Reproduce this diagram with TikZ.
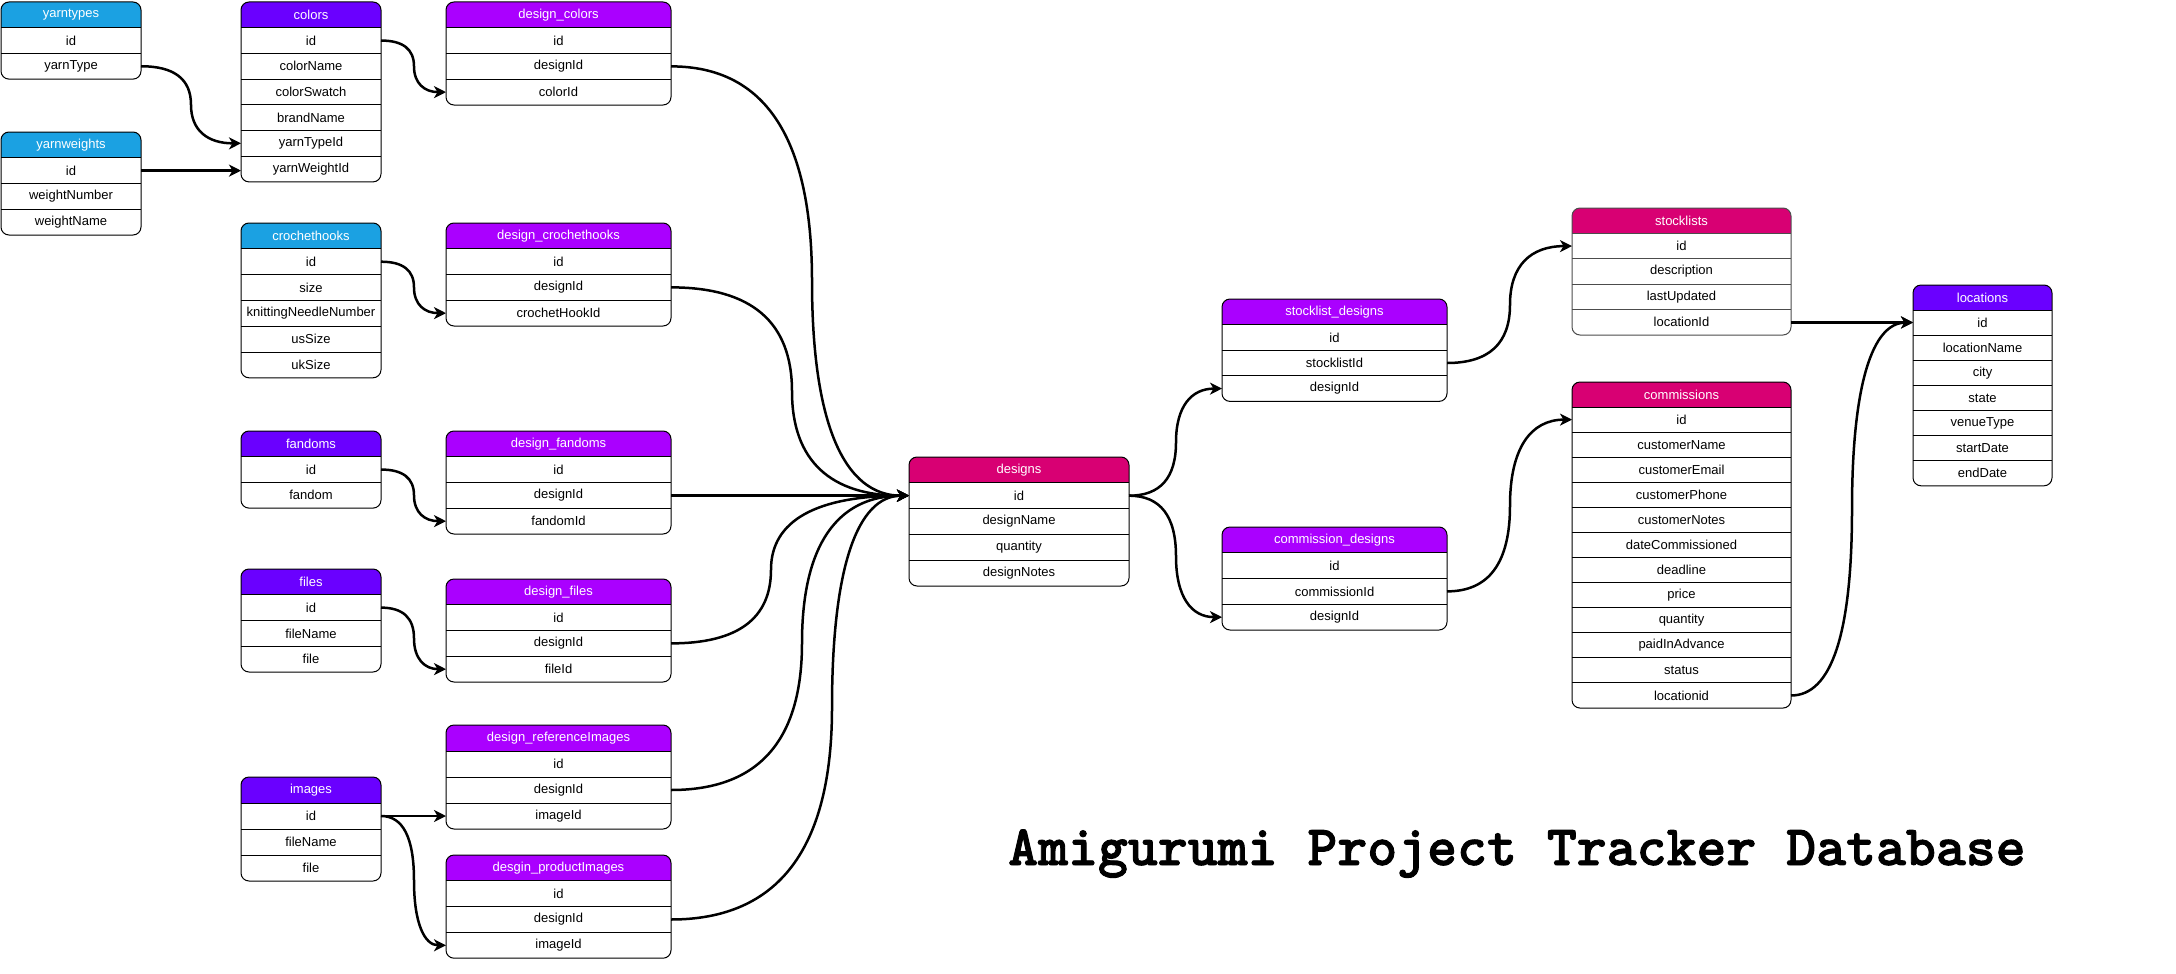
\documentclass[tikz,border=0pt]{standalone}
\usepackage{fontspec}
\setmainfont{Liberation Sans}
\newfontfamily\titlefont{lmmonolt10-bold.otf}[FakeBold=1.6]
\usetikzlibrary{arrows.meta,calc}
\definecolor{hblue}{HTML}{1BA1E2}
\definecolor{hviolet}{HTML}{6A00FF}
\definecolor{hpurple}{HTML}{AA00FF}
\definecolor{hmagenta}{HTML}{D80073}
\tikzset{
  cell/.style={inner sep=0pt, outer sep=0pt, anchor=north west, font=\fontsize{13}{15}\selectfont},
  hdrtext/.style={cell, text=white},
  fkline/.style={line width=2.5pt, -{Stealth[length=12pt,width=12pt,inset=3.5pt]}},
}
% #1 line colour, #2 id, #3 left, #4 top, #5 width, #6 row height, #7 header colour, #8 title, #9 rows
\newcommand{\tbl}[9][black]{%
  \foreach \r [count=\i] in {#9} {\xdef\tbln{\i}}%
  \pgfmathsetmacro\tblh{(\tbln+1)*#6}%
  \fill[white, rounded corners=8pt] (#3,-#4) rectangle ++(#5,-\tblh);
  \begin{scope}
    \clip[rounded corners=8pt] (#3,-#4) rectangle ++(#5,-\tblh);
    \fill[#7] (#3,-#4) rectangle ++(#5,-#6);
  \end{scope}
  \node[hdrtext, minimum width=#5pt, minimum height=#6pt] (#2) at (#3,-#4) {#8};
  \foreach \r [count=\i] in {#9} {
    \node[cell, minimum width=#5pt, minimum height=#6pt] (#2-\r) at (#3,{-#4-\i*#6}) {\r};
    \draw[#1, line width=1pt] (#3,{-#4-\i*#6}) -- ++(#5,0);
  }
  \draw[#1, line width=1pt, rounded corners=8pt] (#3,-#4) rectangle ++(#5,-\tblh);
}
% curved foreign-key connector: #1 source row, #2 target row, #3 x of vertical part
\newcommand{\fk}[3]{%
  \draw[fkline] let \p1=(#1.east), \p2=(#2.west), \n1={#3}, \n2={(\y1+\y2)/2} in
    (\p1) .. controls ({\x1+2/3*(\n1-\x1)},\y1) and (\n1,{\n2+2/3*(\y1-\n2)}) .. (\n1,\n2)
          .. controls (\n1,{\n2+2/3*(\y2-\n2)}) and ({\x2+2/3*(\n1-\x2)},\y2) .. (\p2);
}
\begin{document}
\begin{tikzpicture}[x=1pt,y=1pt]
\useasboundingbox (0,0) rectangle (2176,-974);

\tbl{yarntypes}{1}{2}{140}{25.7}{hblue}{yarntypes}{id,yarnType}
\tbl{yarnweights}{1}{132}{140}{25.75}{hblue}{yarnweights}{id,weightNumber,weightName}
\tbl{colors}{241}{2}{140}{25.7}{hviolet}{colors}{id,colorName,colorSwatch,brandName,yarnTypeId,yarnWeightId}
\tbl{dcolors}{446}{2}{225}{25.75}{hpurple}{design\_colors}{id,designId,colorId}
\tbl{hooks}{241}{223}{140}{25.8}{hblue}{crochethooks}{id,size,knittingNeedleNumber,usSize,ukSize}
\tbl{dhooks}{446}{223}{225}{25.75}{hpurple}{design\_crochethooks}{id,designId,crochetHookId}
\tbl{fandoms}{241}{431}{140}{25.7}{hviolet}{fandoms}{id,fandom}
\tbl{dfandoms}{446}{431}{225}{25.75}{hpurple}{design\_fandoms}{id,designId,fandomId}
\tbl{files}{241}{569}{140}{25.75}{hviolet}{files}{id,fileName,file}
\tbl{dfiles}{446}{579}{225}{25.75}{hpurple}{design\_files}{id,designId,fileId}
\tbl{images}{241}{777}{140}{26}{hviolet}{images}{id,fileName,file}
\tbl{dref}{446}{725}{225}{26}{hpurple}{design\_referenceImages}{id,designId,imageId}
\tbl{dprod}{446}{855}{225}{25.8}{hpurple}{desgin\_productImages}{id,designId,imageId}
\tbl{designs}{909}{457}{220}{25.8}{hmagenta}{designs}{id,designName,quantity,designNotes}
\tbl{sd}{1222}{299}{225}{25.6}{hpurple}{stocklist\_designs}{id,stocklistId,designId}
\tbl{cd}{1222}{527}{225}{25.75}{hpurple}{commission\_designs}{id,commissionId,designId}
\tbl[black!70]{stocklists}{1572}{208}{219}{25.4}{hmagenta}{stocklists}{id,description,lastUpdated,locationId}
\tbl{commissions}{1572}{382}{219}{25.08}{hmagenta}{commissions}{id,customerName,customerEmail,customerPhone,customerNotes,dateCommissioned,deadline,price,quantity,paidInAdvance,status,locationid}
\tbl{locations}{1913}{285}{139}{25.1}{hviolet}{locations}{id,locationName,city,state,venueType,startDate,endDate}

% connectors
\fk{yarntypes-yarnType}{colors-yarnTypeId}{191}
\draw[fkline] (yarnweights-id.east) -- (yarnweights-id.east -| colors-yarnWeightId.west);
\fk{colors-id}{dcolors-colorId}{414}
\fk{hooks-id}{dhooks-crochetHookId}{414}
\fk{fandoms-id}{dfandoms-fandomId}{414}
\fk{files-id}{dfiles-fileId}{414}
\draw[fkline] (images-id.east) -- (images-id.east -| dref-imageId.west);
\fk{images-id}{dprod-imageId}{414}

\fk{dcolors-designId}{designs-id}{812}
\fk{dhooks-designId}{designs-id}{792}
\draw[fkline] (dfandoms-designId.east) -- (dfandoms-designId.east -| designs-id.west);
\fk{dfiles-designId}{designs-id}{771}
\fk{dref-designId}{designs-id}{802}
\fk{dprod-designId}{designs-id}{832}

\fk{designs-id}{sd-designId}{1176}
\fk{designs-id}{cd-designId}{1176}
\fk{sd-stocklistId}{stocklists-id}{1510}
\fk{cd-commissionId}{commissions-id}{1510}
\draw[fkline] (stocklists-locationId.east) -- (stocklists-locationId.east -| locations-id.west);
\fk{commissions-locationid}{locations-id}{1852}

\node[anchor=base west, inner sep=0pt, font=\titlefont\fontsize{57}{68}\selectfont] (title) at (1008,-865) {Amigurumi Project Tracker Database};
\end{tikzpicture}
\end{document}
